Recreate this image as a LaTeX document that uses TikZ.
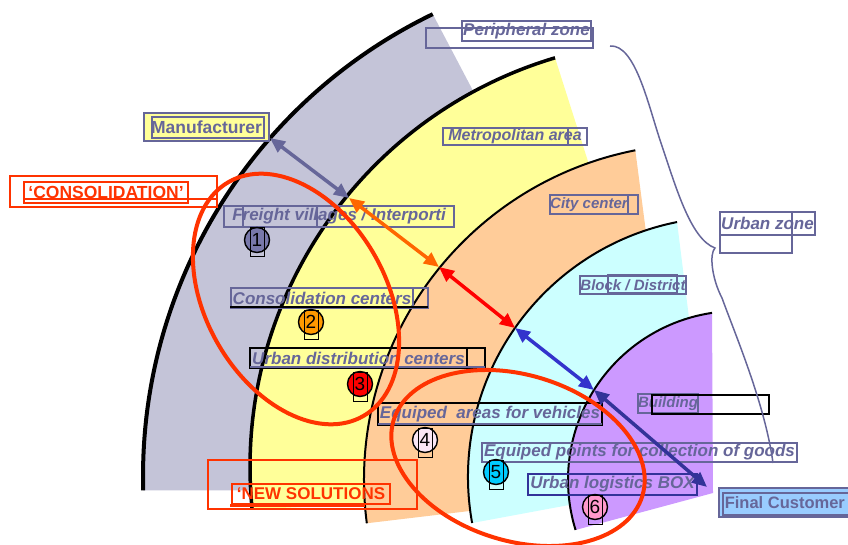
\documentclass[tikz,border=0pt]{standalone}
\usepackage{fontspec}
\setmainfont{Liberation Sans}
\usetikzlibrary{arrows.meta}
\definecolor{slate}{RGB}{102,102,153}
\definecolor{zonegray}{RGB}{196,196,216}
\definecolor{zoneyellow}{RGB}{255,255,153}
\definecolor{zoneorange}{RGB}{255,204,153}
\definecolor{zonecyan}{RGB}{204,255,255}
\definecolor{zonepurple}{RGB}{204,153,255}
\definecolor{groupred}{RGB}{255,51,0}
\definecolor{hoporange}{RGB}{255,102,0}
\definecolor{hopblue}{RGB}{51,51,204}
\definecolor{hopnavy}{RGB}{51,51,153}
\definecolor{custblue}{RGB}{153,204,255}
\definecolor{dot1}{RGB}{120,120,170}
\definecolor{dot2}{RGB}{255,153,0}
\definecolor{dot3}{RGB}{255,0,0}
\definecolor{dot4}{RGB}{250,230,245}
\definecolor{dot5}{RGB}{0,204,255}
\definecolor{dot6}{RGB}{255,153,204}
\tikzset{
  zonelabel/.style={draw=slate,line width=1.5pt,text=slate,inner sep=0pt,
    font=\bfseries\itshape\fontsize{17}{17}\selectfont},
  smalllabel/.style={zonelabel,font=\bfseries\itshape\fontsize{15}{15}\selectfont},
  ghostbox/.style={draw=slate,line width=1.5pt},
  hop/.style={{Triangle[length=15pt,width=13pt]}-{Triangle[length=15pt,width=13pt]},line width=3.5pt},
  groupring/.style={draw=groupred,line width=4pt},
  numdot/.style={circle,draw=black,line width=1.4pt,minimum size=25pt,inner sep=0pt,
    font=\fontsize{19}{19}\selectfont}
}
\begin{document}
\begin{tikzpicture}[x=1pt,y=1pt]
\useasboundingbox (0,0) rectangle (848,544);
% zones
\fill[zonegray] (656,68) ++(115.8:513) arc[start angle=115.8,end angle=181.6,radius=513] -- (683,54) -- cycle;
\fill[zoneyellow] (677,77) ++(106.6:427) arc[start angle=106.6,end angle=185.7,radius=427] -- (692,56) -- cycle;
\fill[zoneorange] (700,64) ++(101.1:336) arc[start angle=101.1,end angle=187.4,radius=336] -- (679,58) -- cycle;
\fill[zonecyan] (728,67) ++(101.3:260) arc[start angle=101.3,end angle=190.2,radius=260] -- (709,65) -- cycle;
\fill[zonepurple] (737,64) ++(98.5:169) arc[start angle=98.5,end angle=197.2,radius=169] -- (713,51) -- cycle;
\draw[line width=4pt] (656,68) ++(115.8:513) arc[start angle=115.8,end angle=181.6,radius=513];
\draw[line width=3.5pt] (677,77) ++(106.6:427) arc[start angle=106.6,end angle=185.7,radius=427];
\draw[line width=2pt] (700,64) ++(101.1:336) arc[start angle=101.1,end angle=187.4,radius=336];
\draw[line width=2pt] (728,67) ++(101.3:260) arc[start angle=101.3,end angle=190.2,radius=260];
\draw[line width=2pt] (737,64) ++(98.5:169) arc[start angle=98.5,end angle=197.2,radius=169];

% labels
\node[zonelabel,minimum width=129,minimum height=20] (peripheral) at (526.5,513) {Peripheral zone};
\draw[ghostbox] (426,496) rectangle (593,516);
\node[draw=slate,line width=1.5pt,fill=zoneyellow,text=slate,inner sep=0pt,minimum width=125,minimum height=28,
  font=\bfseries\fontsize{17.5}{17.5}\selectfont] (manufacturer) at (206.5,417) {Manufacturer};
\draw[ghostbox] (152,406) rectangle (264,427);
\node[zonelabel,font=\bfseries\itshape\fontsize{16}{16}\selectfont,minimum width=144,minimum height=17] (metro) at (515,407.5) {Metropolitan area};
\draw[ghostbox] (443,399) rectangle (568,416);
\node[draw=groupred,line width=1.5pt,text=groupred,inner sep=0pt,minimum width=164,minimum height=21,
  font=\bfseries\fontsize{17.5}{17.5}\selectfont] (consolidation) at (106,351.5) {‘CONSOLIDATION’};
\draw[draw=groupred,line width=2pt] (10,337) rectangle (217,368);
\draw[draw=groupred,line width=2pt] (25,345) -- (217,345);
\node[zonelabel,minimum width=230,minimum height=21] (freight) at (339,327.5) {Freight villages / Interporti};
\draw[ghostbox] (243,317) rectangle (317,338);
\node[smalllabel,minimum width=78,minimum height=19] (city) at (589,339.5) {City center};
\draw[ghostbox] (550,330) rectangle (638,349);
\node[zonelabel,minimum width=95,minimum height=23] (urbanzone) at (767.5,320.5) {Urban zone};
\draw[ghostbox] (720,291) rectangle (792,332);
\node[smalllabel,minimum width=106,minimum height=18] (block) at (633,259) {Block / District};
\draw[ghostbox] (608,251) rectangle (677,269);
\node[zonelabel,minimum width=182,minimum height=20] (conscenters) at (322,246) {Consolidation centers};
\draw[ghostbox] (231,236) rectangle (428,256);
\draw[line width=2.5pt] (230,237) -- (428,237);
\node[zonelabel,draw=black,minimum width=217,minimum height=20] (udc) at (358.5,186) {Urban distribution centers};
\draw[line width=1.5pt] (250,176) rectangle (485,196);
\draw[slate,line width=2pt] (250,177) -- (485,177);
\node[zonelabel,draw=black,minimum width=224,minimum height=22] (areas) at (490,130) {Equiped\ \ areas for vehicles};
\draw[slate,line width=2pt] (378,120) -- (602,120);
\node[smalllabel,minimum width=60,minimum height=19] (building) at (668,140.5) {Building};
\draw[line width=1.5pt] (652,130) rectangle (769,149);
\node[zonelabel,minimum width=315,minimum height=19] (points) at (639.5,91.5) {Equiped points for collection of goods};
\node[zonelabel,draw=hopnavy,minimum width=169,minimum height=21] (logbox) at (612.5,59.5) {Urban logistics BOX};
\node[draw=slate,line width=1.5pt,fill=custblue,text=slate,anchor=west,inner xsep=6pt,inner ysep=0pt,minimum height=29,
  font=\bfseries\fontsize{16.5}{16.5}\selectfont] (customer) at (718,41.5) {Final Customer};
\draw[ghostbox] (723,29) rectangle (870,51);
\node[draw=groupred,line width=1.5pt,text=groupred,inner sep=0pt,minimum width=158,minimum height=20,
  font=\bfseries\fontsize{17}{17}\selectfont] (newsol) at (311,50) {‘NEW SOLUTIONS};
\draw[draw=groupred,line width=2pt] (208,35) rectangle (417,84);
\draw[draw=groupred,line width=3pt] (230,39) -- (365,39);

% numbered dots
\foreach \n/\x/\y/\c in {1/257/304/dot1,2/311/222/dot2,3/360/160/dot3,4/425/104/dot4,5/496/72/dot5,6/595/37/dot6}{
  \node[numdot,fill=\c] (n\n) at (\x,\y) {\n};
  \draw[line width=1pt] (n\n.center) ++(-7,-17) rectangle ++(14,29);
}

% hops between zones
\coordinate (p1) at (270,406);
\coordinate (p2) at (349,346);
\coordinate (p3) at (439,277);
\coordinate (p4) at (515,216);
\coordinate (p5) at (594,154);
\coordinate (p6) at (707,57);
\draw[hop,slate] (p1) -- (p2);
\draw[hop,hoporange] (p2) -- (p3);
\draw[hop,red] (p3) -- (p4);
\draw[hop,hopblue] (p4) -- (p5);
\draw[hop,hopnavy] (p5) -- (p6);

% groups
\draw[groupring,rotate around={-60:(296,245)}] (296,245) ellipse [x radius=135,y radius=90];
\draw[groupring,rotate around={-17:(518,86)}] (518,86) ellipse [x radius=130,y radius=83];

% urban zone brace
\draw[slate,line width=1.5pt] (610,498) .. controls (635,500) and (648,440) .. (660,404)
  .. controls (675,360) and (690,305) .. (715,296)
  .. controls (709,290) and (712,265) .. (722,246)
  .. controls (735,210) and (765,140) .. (773,81);
\end{tikzpicture}
\end{document}
